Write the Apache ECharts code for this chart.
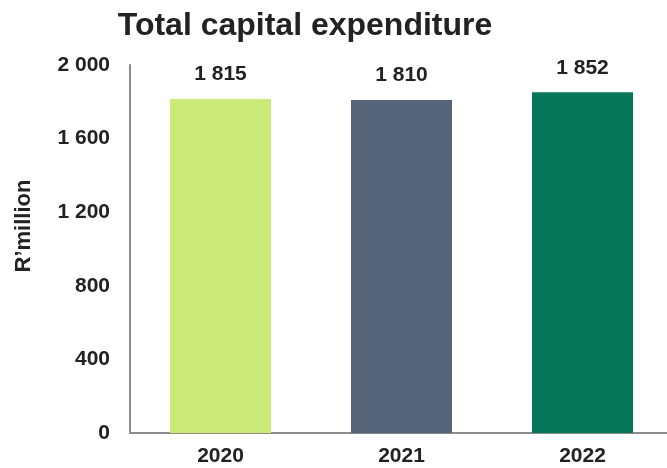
<!DOCTYPE html>
<html><head><meta charset="utf-8">
<script src="https://cdn.jsdelivr.net/npm/echarts@6/dist/echarts.min.js"></script>
<style>html,body{margin:0;padding:0;background:#fff;overflow:hidden}#c{width:690px;height:468px}</style>
</head><body><div id="c"></div>
<script>
const categories = ['2020', '2021', '2022'];
const values = [1815, 1810, 1852];
const barColors = ['#cbea7a', '#556479', '#07775a'];
const yTicks = [0, 400, 800, 1200, 1600, 2000];
const yName = 'R’million';

const fmt = v => String(v).replace(/\B(?=(\d{3})+(?!\d))/g, ' ');
const FONT = 'Liberation Sans, Arial';
const chart = echarts.init(document.getElementById('c'));
chart.setOption({
  animation: false,
  title: {
    text: 'Total capital expenditure', left: 300, top: 5, textAlign: 'center',
    textStyle: { fontFamily: FONT, fontSize: 32, fontWeight: 'bold', color: '#222' }
  },
  graphic: [{
    type: 'text', x: 24, y: 226, rotation: Math.PI / 2,
    style: { text: yName, fontFamily: FONT, fontSize: 22, fontWeight: 'bold', fill: '#222', textAlign: 'center', textVerticalAlign: 'middle' }
  }],
  grid: { left: 130, width: 543, top: 65, bottom: 35 },
  xAxis: {
    type: 'category', data: categories,
    axisLine: { lineStyle: { color: '#8c8c8c', width: 2 } },
    axisTick: { show: false },
    axisLabel: { fontFamily: FONT, fontSize: 21, fontWeight: 'bold', color: '#222', margin: 13 }
  },
  yAxis: {
    type: 'value', min: yTicks[0], max: yTicks[yTicks.length - 1], interval: 400,
    axisLine: { show: true, lineStyle: { color: '#8c8c8c', width: 2 } },
    axisTick: { show: false },
    splitLine: { show: false },
    axisLabel: { fontFamily: FONT, fontSize: 21, fontWeight: 'bold', color: '#222', margin: 20, formatter: fmt }
  },
  series: [{
    type: 'bar', barWidth: 101,
    data: values.map((v, i) => ({ value: v, itemStyle: { color: barColors[i] } })),
    label: { show: true, position: 'top', distance: 14, fontFamily: FONT, fontSize: 21, fontWeight: 'bold', color: '#222', formatter: p => fmt(p.value) }
  }]
});
</script></body></html>
